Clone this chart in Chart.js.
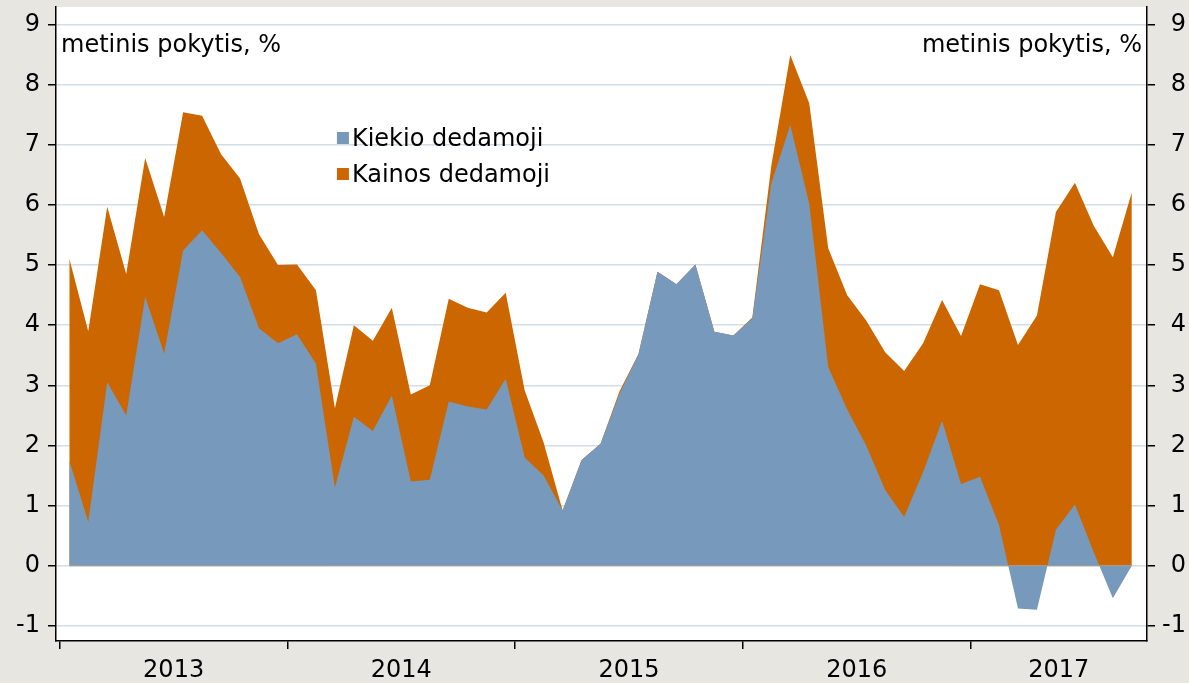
<!DOCTYPE html>
<html lang="lt">
<head>
<meta charset="utf-8">
<title>Metinis pokytis</title>
<script src="https://cdn.jsdelivr.net/npm/chart.js@4/dist/chart.umd.min.js"></script>
<style>
  html, body { margin: 0; padding: 0; background: #e8e6e1; }
  #dezute { width: 1189px; height: 683px; }
</style>
</head>
<body>
<div id="dezute"><canvas id="grafikas"></canvas></div>
<script>
// Mėnesiniai duomenys nuo 2013 m. sausio iki 2017 m. rugsėjo
const metai = ['2013', '2014', '2015', '2016', '2017'];

// Kiekio dedamoji (mėlynas plotas)
const kiekioDedamoji = [
  1.75, 0.73, 3.05, 2.50, 4.47, 3.53, 5.24, 5.58, 5.20, 4.80, 3.95, 3.70,
  3.85, 3.36, 1.30, 2.48, 2.24, 2.83, 1.40, 1.43, 2.73, 2.65, 2.60, 3.11,
  1.80, 1.50, 0.92, 1.76, 2.03, 2.86, 3.52, 4.89, 4.68, 5.01, 3.89, 3.83,
  4.11, 6.36, 7.33, 6.02, 3.30, 2.60, 2.00, 1.26, 0.81, 1.56, 2.41, 1.36,
  1.48, 0.68, -0.71, -0.73, 0.60, 1.02, 0.22, -0.54, 0.00
];

// Viršutinis oranžinio ploto (kainos dedamoji ant kiekio) kraštas
const bendrasPokytis = [
  5.11, 3.90, 5.97, 4.85, 6.78, 5.80, 7.54, 7.48, 6.84, 6.44, 5.51, 5.00,
  5.01, 4.58, 2.62, 4.00, 3.74, 4.29, 2.85, 3.00, 4.44, 4.29, 4.21, 4.54,
  2.92, 2.05, 0.92, 1.76, 2.03, 2.90, 3.52, 4.89, 4.68, 5.01, 3.89, 3.83,
  4.13, 6.65, 8.49, 7.69, 5.28, 4.50, 4.08, 3.55, 3.24, 3.70, 4.42, 3.82,
  4.68, 4.58, 3.67, 4.16, 5.88, 6.37, 5.65, 5.13, 6.21
];

const yReiksmes = [-1, 0, 1, 2, 3, 4, 5, 6, 7, 8, 9];

const spalvos = {
    kiekio: '#7799bb',
    kainos: '#cc6600',
    fonas: '#e8e6e1',
    tinklelis: '#d3dde5',
    tekstas: '#000000'
};
const sriftas = { family: 'DejaVu Sans', size: 24 };

const xMin = -0.7;
const xMax = 56.8;

// metų ribos ir metų vidurys etiketėms
const ribos = metai.map((m, k) => k * 12 - 0.5);
const viduriai = ribos.map((r, k) => k < ribos.length - 1 ? r + 6 : (r + xMax) / 2);

function taskai(reiksmes) {
    return reiksmes.map((v, i) => ({ x: i, y: v }));
}

// ašys be papildomų paraščių
function beParasciu(s) {
    s.paddingTop = 0;
    s.paddingBottom = 0;
    s.paddingLeft = 0;
    s.paddingRight = 0;
}

const fonoPlugin = {
    id: 'fonas',
    beforeDraw(chart) {
        const { ctx, chartArea: a } = chart;
        ctx.save();
        ctx.fillStyle = spalvos.fonas;
        ctx.fillRect(0, 0, chart.width, chart.height);
        ctx.fillStyle = '#ffffff';
        ctx.fillRect(a.left, a.top, a.right - a.left, a.bottom - a.top);
        ctx.restore();
    },
    afterDatasetsDraw(chart) {
        // nulinė linija po duomenimis
        const { ctx, scales } = chart;
        const y0 = scales.y.getPixelForValue(0);
        ctx.save();
        ctx.strokeStyle = '#a0a0a0';
        ctx.lineWidth = 1;
        ctx.beginPath();
        ctx.moveTo(scales.x.getPixelForValue(0), y0);
        ctx.lineTo(scales.x.getPixelForValue(kiekioDedamoji.length - 1), y0);
        ctx.stroke();
        ctx.restore();
    }
};

const uzrasuPlugin = {
    id: 'uzrasai',
    afterDraw(chart) {
        const { ctx, chartArea: a } = chart;
        const w = a.right - a.left;
        ctx.save();
        ctx.font = sriftas.size + 'px "' + sriftas.family + '"';
        ctx.fillStyle = spalvos.tekstas;
        ctx.textBaseline = 'alphabetic';
        ctx.textAlign = 'left';
        ctx.fillText('metinis pokytis, %', a.left + 5, a.top + 45);
        ctx.textAlign = 'right';
        ctx.fillText('metinis pokytis, %', a.right - 5, a.top + 45);

        // legenda
        const lx = a.left + w * 0.2575;
        const eilutes = chart.data.datasets.map(d => ({ tekstas: d.label, spalva: d.backgroundColor }));
        ctx.textAlign = 'left';
        eilutes.forEach((e, k) => {
            const baze = a.top + 139 + k * 36;
            ctx.fillStyle = e.spalva;
            ctx.fillRect(lx, baze - 14, 12, 12);
            ctx.fillStyle = spalvos.tekstas;
            ctx.fillText(e.tekstas, lx + 15, baze);
        });
        ctx.restore();
    }
};

const ctx = document.getElementById('grafikas').getContext('2d');
new Chart(ctx, {
    type: 'line',
    data: {
        datasets: [
            {
                label: 'Kiekio dedamoji',
                data: taskai(kiekioDedamoji),
                backgroundColor: spalvos.kiekio,
                borderWidth: 0,
                pointRadius: 0,
                fill: 'origin',
                tension: 0
            },
            {
                label: 'Kainos dedamoji',
                data: taskai(bendrasPokytis),
                backgroundColor: spalvos.kainos,
                borderWidth: 0,
                pointRadius: 0,
                fill: 'origin',
                tension: 0
            }
        ]
    },
    options: {
        responsive: true,
        maintainAspectRatio: false,
        animation: false,
        layout: { padding: { top: 7, left: 0, right: 3, bottom: 0 } },
        plugins: {
            legend: { display: false },
            tooltip: { enabled: false }
        },
        scales: {
            x: {
                type: 'linear',
                position: 'bottom',
                min: xMin,
                max: xMax,
                afterBuildTicks: s => {
                    s.ticks = ribos.concat(viduriai).sort((p, q) => p - q).map(v => ({ value: v }));
                },
                afterFit: s => { s.height = 42; beParasciu(s); },
                ticks: {
                    autoSkip: false,
                    maxRotation: 0,
                    padding: 7,
                    color: spalvos.tekstas,
                    font: sriftas,
                    callback: v => {
                        const k = viduriai.indexOf(v);
                        return k >= 0 ? metai[k] : '';
                    }
                },
                grid: {
                    drawOnChartArea: false,
                    tickLength: 8,
                    lineWidth: 1.5,
                    tickColor: c => ribos.includes(c.tick.value) ? '#000' : 'rgba(0,0,0,0)'
                },
                border: { color: '#000', width: 1.5 }
            },
            y: {
                position: 'left',
                min: -1.25,
                max: 9.29,
                afterBuildTicks: s => { s.ticks = yReiksmes.map(v => ({ value: v })); },
                afterFit: s => { s.width = 56; beParasciu(s); },
                ticks: { padding: 8, color: spalvos.tekstas, font: sriftas },
                grid: {
                    color: spalvos.tinklelis,
                    lineWidth: 1.5,
                    tickLength: 8,
                    tickColor: '#000'
                },
                border: { color: '#000', width: 1.5 }
            },
            y2: {
                position: 'right',
                min: -1.25,
                max: 9.29,
                afterBuildTicks: s => { s.ticks = yReiksmes.map(v => ({ value: v })); },
                afterFit: s => { s.width = 39; beParasciu(s); },
                ticks: { padding: 3, color: spalvos.tekstas, font: sriftas, crossAlign: 'far' },
                grid: {
                    drawOnChartArea: false,
                    lineWidth: 1.5,
                    tickLength: 8,
                    tickColor: '#000'
                },
                border: { color: '#000', width: 1.5 }
            }
        }
    },
    plugins: [fonoPlugin, uzrasuPlugin]
});
</script>
</body>
</html>
